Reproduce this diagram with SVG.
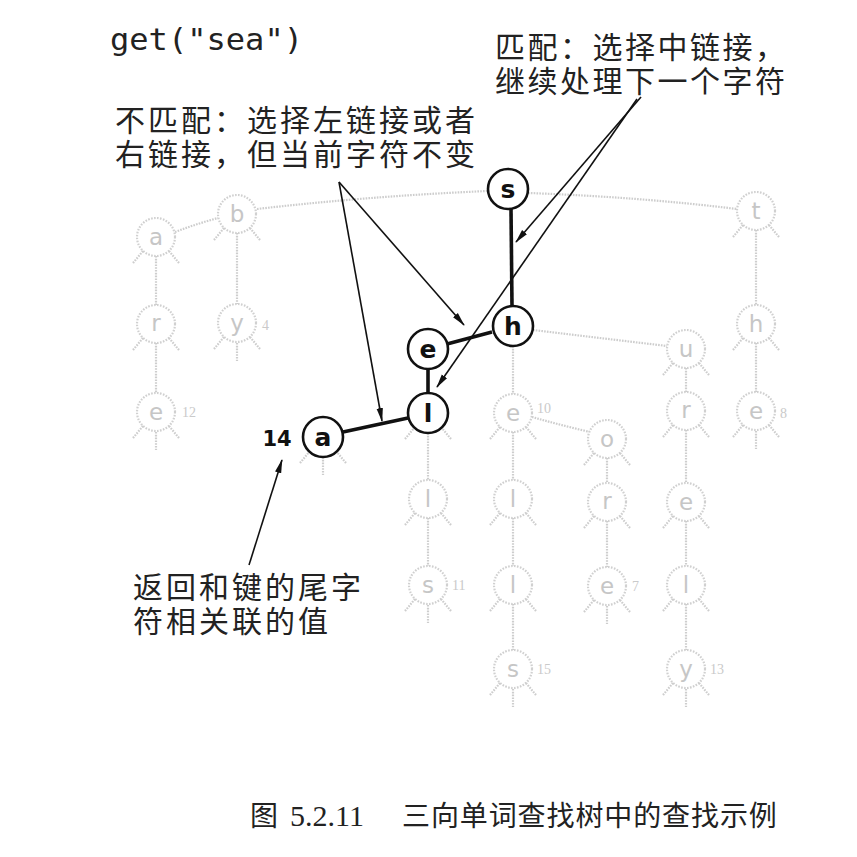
<svg xmlns="http://www.w3.org/2000/svg" xmlns:xlink="http://www.w3.org/1999/xlink" width="857" height="857" viewBox="0 0 857 857">
<defs>
<style>
.fl{stroke:#cdcdcd;stroke-width:2.2;stroke-dasharray:1.6 1.2;fill:none}
.fc{fill:#fff;stroke:#d0d0d0;stroke-width:2.2;stroke-dasharray:1.6 1.4}
.ft{font-family:"DejaVu Sans",sans-serif;font-size:23px;fill:#c6c6c6;text-anchor:middle}
.fv{font-family:"Liberation Serif",serif;font-size:14px;fill:#cacaca}
.hc{fill:#fff;stroke:#111;stroke-width:2.6}
.ht{font-family:"DejaVu Sans",sans-serif;font-weight:bold;font-size:25px;fill:#111;text-anchor:middle}
.hl{stroke:#111;stroke-width:3.6;fill:none}
.ar{stroke:#111;stroke-width:1.6;fill:none;marker-end:url(#ah)}
.cj{font-family:"Noto Sans CJK SC",sans-serif;font-size:30px;fill:#222;letter-spacing:2.5px}
</style>
<marker id="ah" viewBox="0 0 14 8" refX="13" refY="4" markerWidth="14" markerHeight="8" markerUnits="userSpaceOnUse" orient="auto">
<path d="M0,0.8 L14,4 L0,7.2 Z" fill="#111"/>
</marker>
<g id="stubs">
<path class="fl" d="M-13,14 L-23,26 M13,14 L23,26"/>
</g>
<g id="mstub">
<path class="fl" d="M0,20 L0,38"/>
</g>
</defs>
<rect width="857" height="857" fill="#fff"/>

<g id="connectors">
<!-- faded links -->
<path class="fl" d="M175,232 Q196,224 218,218"/>
<path class="fl" d="M257,209 Q370,196 488,191"/>
<path class="fl" d="M528,193 Q640,197 737,209"/>
<path class="fl" d="M156,256 L156,305 M156,343 L156,393"/>
<path class="fl" d="M237,233 L237,304"/>
<path class="fl" d="M756,230 L756,305 M756,343 L756,392"/>
<path class="fl" d="M513,346 L513,394 M513,432 L513,480 M513,518 L513,566 M513,604 L513,650"/>
<path class="fl" d="M428,433 L428,480 M428,518 L428,566"/>
<path class="fl" d="M532,417 Q560,425 590,432"/>
<path class="fl" d="M607,458 L607,483 M607,521 L607,567"/>
<path class="fl" d="M533,330 Q600,338 667,346"/>
<path class="fl" d="M686,368 L686,392 M686,430 L686,483 M686,521 L686,566 M686,604 L686,650"/>
<!-- highlighted search path -->
<path class="hl" d="M511,209 L512,306"/>
<path class="hl" d="M492,332 L447,344"/>
<path class="hl" d="M428,369 L428,393"/>
<path class="hl" d="M343,432 L408,418"/>
<!-- annotation arrows -->
<path class="ar" d="M641,97 L516,242"/>
<path class="ar" d="M637,99 L437,387"/>
<path class="ar" d="M339,182 L464,325"/>
<path class="ar" d="M339,182 L382,421"/>
<path class="ar" d="M249,565 L282,460"/>
</g>

<g id="n-a1"><circle class="fc" cx="156" cy="237" r="19"/><text class="ft" x="156" y="245">a</text><use xlink:href="#stubs" x="156" y="237"/></g>
<g id="n-b"><circle class="fc" cx="237" cy="214" r="19"/><text class="ft" x="237" y="222">b</text><use xlink:href="#stubs" x="237" y="214"/></g>
<g id="n-t"><circle class="fc" cx="756" cy="211" r="19"/><text class="ft" x="756" y="219">t</text><use xlink:href="#stubs" x="756" y="211"/></g>
<g id="n-r1"><circle class="fc" cx="156" cy="324" r="19"/><text class="ft" x="156" y="331">r</text><use xlink:href="#stubs" x="156" y="324"/></g>
<g id="n-y1"><circle class="fc" cx="237" cy="323" r="19"/><text class="ft" x="237" y="331">y</text><use xlink:href="#stubs" x="237" y="323"/><use xlink:href="#mstub" x="237" y="323"/><text class="fv" x="262" y="330">4</text></g>
<g id="n-e1"><circle class="fc" cx="156" cy="412" r="19"/><text class="ft" x="156" y="420">e</text><use xlink:href="#stubs" x="156" y="412"/><use xlink:href="#mstub" x="156" y="412"/><text class="fv" x="182" y="417">12</text></g>
<g id="n-h2"><circle class="fc" cx="756" cy="324" r="19"/><text class="ft" x="756" y="332">h</text><use xlink:href="#stubs" x="756" y="324"/></g>
<g id="n-e3"><circle class="fc" cx="756" cy="411" r="19"/><text class="ft" x="756" y="419">e</text><use xlink:href="#stubs" x="756" y="411"/><use xlink:href="#mstub" x="756" y="411"/><text class="fv" x="780" y="418">8</text></g>
<g id="n-e2"><circle class="fc" cx="513" cy="413" r="19"/><text class="ft" x="513" y="421">e</text><use xlink:href="#stubs" x="513" y="413"/><text class="fv" x="537" y="413">10</text></g>
<g id="n-o"><circle class="fc" cx="607" cy="439" r="19"/><text class="ft" x="607" y="447">o</text><use xlink:href="#stubs" x="607" y="439"/></g>
<g id="n-u"><circle class="fc" cx="686" cy="349" r="19"/><text class="ft" x="686" y="357">u</text><use xlink:href="#stubs" x="686" y="349"/></g>
<g id="n-r3"><circle class="fc" cx="686" cy="411" r="19"/><text class="ft" x="686" y="418">r</text><use xlink:href="#stubs" x="686" y="411"/></g>
<g id="n-l2"><circle class="fc" cx="428" cy="499" r="19"/><text class="ft" x="428" y="507">l</text><use xlink:href="#stubs" x="428" y="499"/></g>
<g id="n-l3"><circle class="fc" cx="513" cy="499" r="19"/><text class="ft" x="513" y="507">l</text><use xlink:href="#stubs" x="513" y="499"/></g>
<g id="n-r2"><circle class="fc" cx="607" cy="502" r="19"/><text class="ft" x="607" y="509">r</text><use xlink:href="#stubs" x="607" y="502"/></g>
<g id="n-e5"><circle class="fc" cx="686" cy="502" r="19"/><text class="ft" x="686" y="510">e</text><use xlink:href="#stubs" x="686" y="502"/></g>
<g id="n-s2"><circle class="fc" cx="428" cy="585" r="19"/><text class="ft" x="428" y="593">s</text><use xlink:href="#stubs" x="428" y="585"/><use xlink:href="#mstub" x="428" y="585"/><text class="fv" x="452" y="590">11</text></g>
<g id="n-l4"><circle class="fc" cx="513" cy="585" r="19"/><text class="ft" x="513" y="593">l</text><use xlink:href="#stubs" x="513" y="585"/></g>
<g id="n-e4"><circle class="fc" cx="607" cy="586" r="19"/><text class="ft" x="607" y="594">e</text><use xlink:href="#stubs" x="607" y="586"/><use xlink:href="#mstub" x="607" y="586"/><text class="fv" x="632" y="591">7</text></g>
<g id="n-l5"><circle class="fc" cx="686" cy="585" r="19"/><text class="ft" x="686" y="593">l</text><use xlink:href="#stubs" x="686" y="585"/></g>
<g id="n-s3"><circle class="fc" cx="513" cy="669" r="19"/><text class="ft" x="513" y="677">s</text><use xlink:href="#stubs" x="513" y="669"/><use xlink:href="#mstub" x="513" y="669"/><text class="fv" x="537" y="674">15</text></g>
<g id="n-y2"><circle class="fc" cx="686" cy="669" r="19"/><text class="ft" x="686" y="677">y</text><use xlink:href="#stubs" x="686" y="669"/><use xlink:href="#mstub" x="686" y="669"/><text class="fv" x="710" y="674">13</text></g>

<g id="n-s"><circle class="hc" cx="508" cy="189" r="20"/><text class="ht" x="508" y="198">s</text></g>
<g id="n-h"><circle class="hc" cx="513" cy="326" r="20"/><text class="ht" x="513" y="335">h</text></g>
<g id="n-e"><circle class="hc" cx="428" cy="349" r="20"/><text class="ht" x="428" y="358">e</text></g>
<g id="n-l"><use xlink:href="#stubs" x="428" y="413"/><circle class="hc" cx="428" cy="413" r="20"/><text class="ht" x="428" y="422">l</text></g>
<g id="n-a"><use xlink:href="#stubs" x="323" y="437"/><use xlink:href="#mstub" x="323" y="437"/><circle class="hc" cx="323" cy="437" r="20"/><text class="ht" x="323" y="446">a</text><text x="277" y="446" style="font-family:'DejaVu Sans',sans-serif;font-weight:bold;font-size:21px;fill:#111;text-anchor:middle">14</text></g>

<g id="labels">
<text x="110" y="50" style="font-family:'DejaVu Sans Mono',monospace;font-size:31px;fill:#222" textLength="193" lengthAdjust="spacingAndGlyphs">get("sea")</text>
<text class="cj"><tspan x="495" y="58">匹配：选择中链接，</tspan><tspan x="495" y="92">继续处理下一个字符</tspan></text>
<text class="cj" style="letter-spacing:3px"><tspan x="115" y="131">不匹配：选择左链接或者</tspan><tspan x="115" y="165">右链接，但当前字符不变</tspan></text>
<text class="cj" style="letter-spacing:3px"><tspan x="133" y="598">返回和键的尾字</tspan><tspan x="133" y="632">符相关联的值</tspan></text>
<text y="826" style="font-family:'Noto Sans CJK SC',sans-serif;font-size:28px;fill:#222"><tspan x="250">图</tspan><tspan x="290" style="font-family:'Liberation Serif',serif;font-size:30px">5.2.11</tspan><tspan x="402" style="letter-spacing:0.9px">三向单词查找树中的查找示例</tspan></text>
</g>
</svg>
